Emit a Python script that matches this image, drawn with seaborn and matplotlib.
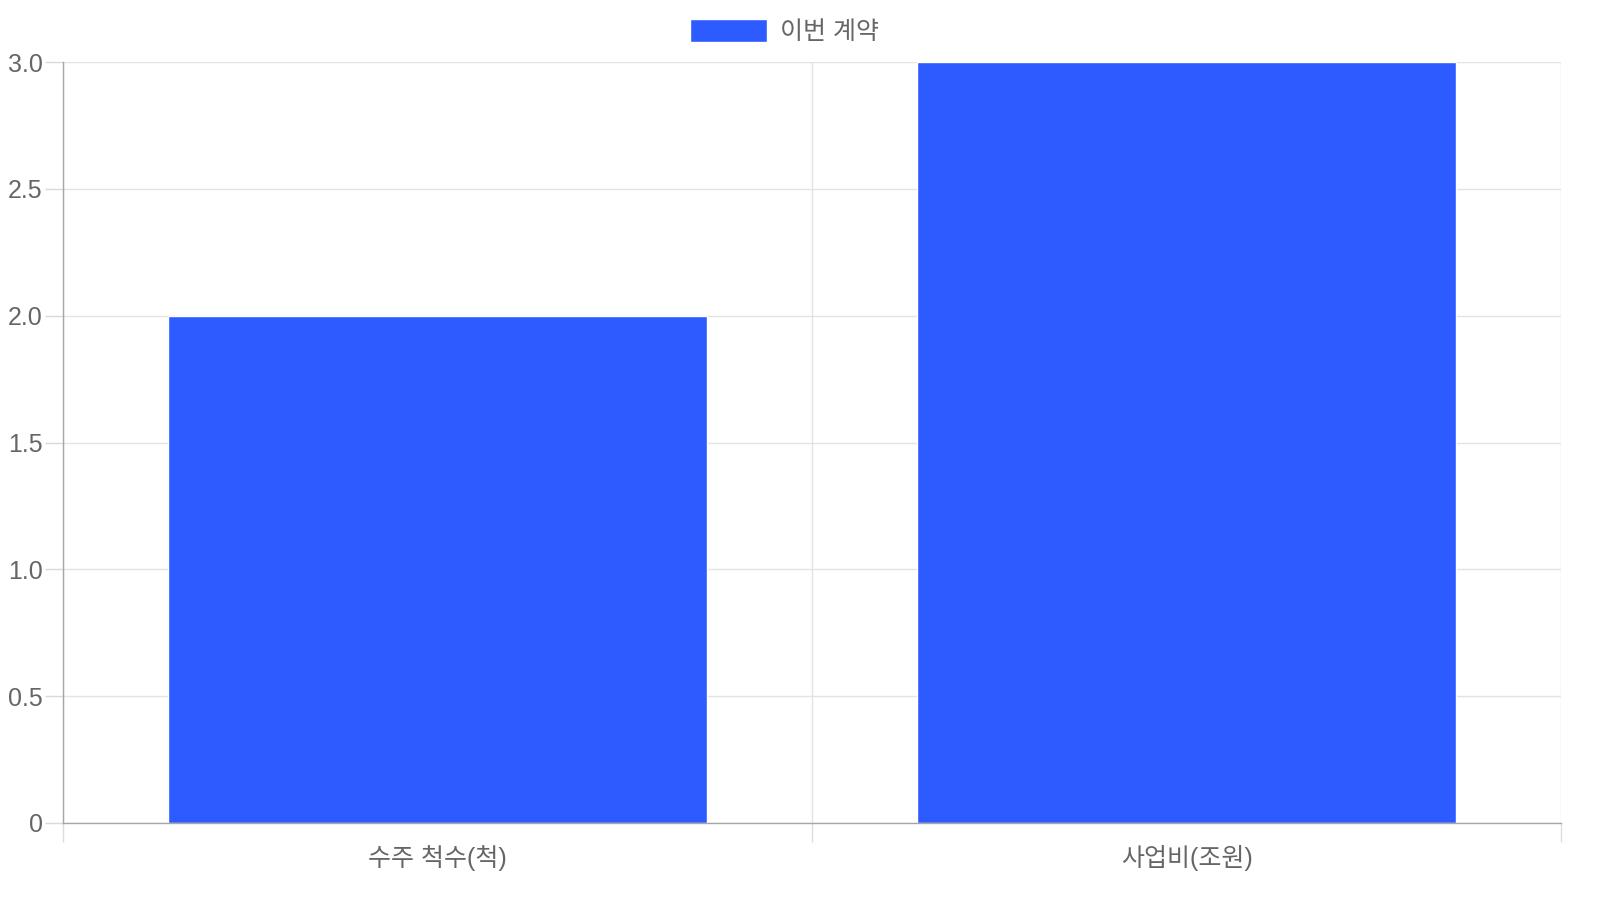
import matplotlib
matplotlib.use('Agg')
import matplotlib.pyplot as plt
import matplotlib.ticker as mticker
import seaborn as sns
import pandas as pd

# Données du graphique
categories = ['수주 척수(척)', '사업비(조원)']
values = [2, 3]
series_name = '이번 계약'
bar_color = '#2d5bff'

sns.set_theme(style='white')
plt.rcParams['font.family'] = ['Liberation Sans', 'Noto Sans CJK KR', 'DejaVu Sans']

df = pd.DataFrame({'category': categories, 'value': values})

fig = plt.figure(figsize=(16, 9), dpi=100)
ax = fig.add_axes([63 / 1600, 1 - 823 / 900, (1561 - 63) / 1600, (823 - 62) / 900])

sns.barplot(data=df, x='category', y='value', color=bar_color, width=0.72,
            saturation=1, ax=ax, label=series_name, zorder=3)

ax.set_xlim(-0.5, 1.5)
ax.set_ylim(0, 3)
ax.set_xlabel('')
ax.set_ylabel('')

# Axe Y
ax.yaxis.set_major_locator(mticker.MultipleLocator(0.5))
ax.yaxis.set_major_formatter(mticker.FuncFormatter(lambda v, p: '0' if v == 0 else f'{v:.1f}'))
ax.tick_params(axis='y', length=13, width=1, color='#d9d9d9', labelsize=18,
               labelcolor='#666666', pad=1.5, left=True)
ax.grid(axis='y', color='#e3e3e3', linewidth=1, zorder=0)

# Axe X : lignes de séparation entre catégories
ax.set_xticks([-0.5, 0.5, 1.5], minor=True)
ax.tick_params(axis='x', which='major', length=0, labelsize=18, labelcolor='#666666', pad=16)
ax.tick_params(axis='x', which='minor', length=14, width=1, color='#dddddd', bottom=True)
ax.grid(axis='x', which='minor', color='#e3e3e3', linewidth=1, zorder=0)
ax.grid(axis='x', which='major', visible=False)

for side in ['top', 'right']:
    ax.spines[side].set_visible(False)
for side in ['left', 'bottom']:
    ax.spines[side].set_color('#a6a6a6')
    ax.spines[side].set_linewidth(1)
    ax.spines[side].set_zorder(4)

# Légende en haut
ax.legend(loc='center', bbox_to_anchor=(0.49, 0.965), bbox_transform=fig.transFigure,
          frameon=False, fontsize=18, handlelength=3.1, handleheight=1.0,
          handletextpad=0.5, labelcolor='#666666')

fig.savefig('out.png', dpi=100)
